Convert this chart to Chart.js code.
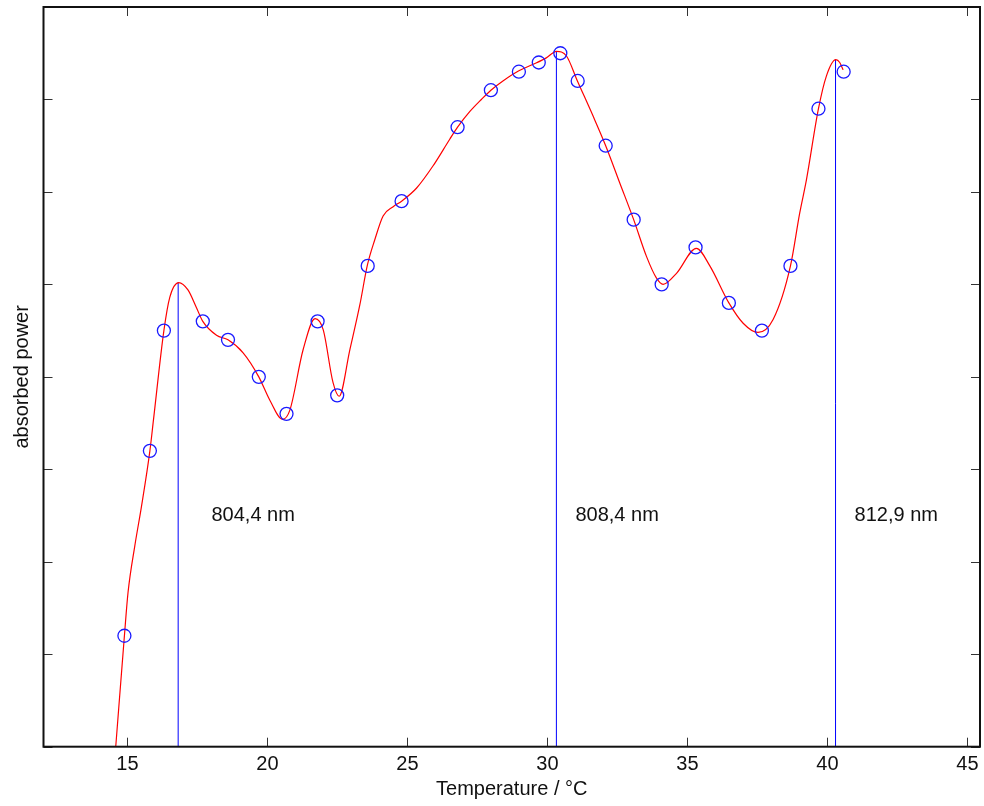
<!DOCTYPE html>
<html>
<head>
<meta charset="utf-8">
<title>absorbed power vs temperature</title>
<script src="https://cdn.jsdelivr.net/npm/chart.js@4.4.1/dist/chart.umd.min.js"></script>
<style>
  body { margin: 0; background: #fff; }
  #wrap { width: 984px; height: 806px; }
</style>
</head>
<body>
<div id="wrap"><canvas id="chart" width="984" height="806"></canvas></div>
<script>
// measured points (temperature in °C, absorbed power in arbitrary units)
const tempC = [14.89, 15.8, 16.3, 17.69, 18.59, 19.69, 20.68, 21.79, 22.49, 23.58, 24.79, 26.79, 27.98,
  28.98, 29.69, 30.46, 31.08, 32.08, 33.08, 34.08, 35.29, 36.48, 37.66, 38.68, 39.68, 40.58];
const power = [1.2, 3.2, 4.5, 4.6, 4.4, 4.0, 3.6, 4.6, 3.8, 5.2, 5.9, 6.7, 7.1,
  7.3, 7.4, 7.5, 7.2, 6.5, 5.7, 5.0, 5.4, 4.8, 4.5, 5.2, 6.9, 7.3];

// smoothed fit curve
const fitX = [14.58, 14.89, 15.02, 15.26, 15.5, 15.8, 15.93, 16.3, 16.51, 16.83, 17.16, 17.46, 17.69,
  18.18, 18.59, 19.13, 19.69, 20.08, 20.54, 20.8, 21.27, 21.7, 21.99, 22.34, 22.56, 22.94, 23.3,
  23.57, 23.83, 24.13, 24.49, 24.79, 25.32, 25.91, 26.51, 26.79, 27.23, 27.64, 27.98, 28.41, 28.98,
  29.49, 29.96, 30.32, 30.68, 31.07, 31.63, 32.08, 32.58, 33.08, 33.54, 33.89, 34.13, 34.61, 35.32,
  35.8, 36.48, 36.99, 37.52, 38.06, 38.68, 39.01, 39.25, 39.68, 39.96, 40.3, 40.44, 40.56];
const fitY = [0, 1.2, 1.67, 2.17, 2.6, 3.2, 3.54, 4.5, 4.86, 5.02, 4.94, 4.75, 4.6,
  4.45, 4.4, 4.26, 4.0, 3.75, 3.54, 3.64, 4.29, 4.63, 4.51, 3.94, 3.79, 4.29, 4.78,
  5.21, 5.48, 5.74, 5.84, 5.9, 6.04, 6.28, 6.57, 6.7, 6.87, 7.0, 7.1, 7.2, 7.31,
  7.38, 7.45, 7.52, 7.47, 7.2, 6.82, 6.5, 6.1, 5.7, 5.3, 5.07, 5.0, 5.12, 5.39,
  5.2, 4.8, 4.58, 4.48, 4.62, 5.2, 5.77, 6.13, 6.9, 7.25, 7.43, 7.4, 7.32];

// peak markers
const peakX = [16.81, 30.32, 40.29];
const peakTop = [5.02, 7.52, 7.43];
const peakLabels = ["804,4 nm", "808,4 nm", "812,9 nm"];
const labelX = [18.0, 31.0, 40.97];
const labelY = [2.5, 2.5, 2.5];

const xTicks = [15, 20, 25, 30, 35, 40, 45];
const yTicks = [0, 1, 2, 3, 4, 5, 6, 7, 8];

const fontFamily = "'Liberation Sans', Arial, Helvetica, sans-serif";

const datasets = [
  {
    label: "fit",
    data: fitX.map((x, i) => ({ x: x, y: fitY[i] })),
    borderColor: "#ff0000",
    borderWidth: 1.2,
    pointRadius: 0,
    cubicInterpolationMode: "monotone",
    order: 2,
  },
  {
    label: "measured",
    data: tempC.map((x, i) => ({ x: x, y: power[i] })),
    showLine: false,
    pointStyle: "circle",
    pointRadius: 6.5,
    borderColor: "#1a1aff",
    backgroundColor: "rgba(0,0,0,0)",
    pointBorderWidth: 1.3,
    order: 1,
  },
];

peakX.forEach((x, i) => {
  datasets.push({
    label: peakLabels[i],
    data: [{ x: x, y: 0 }, { x: x, y: peakTop[i] }],
    borderColor: "#0000ff",
    borderWidth: 1,
    pointRadius: 0,
    order: 3,
  });
});

// frame, inward ticks and peak labels
const framePlugin = {
  id: "frame",
  afterDraw(chart) {
    const { ctx, chartArea: a, scales } = chart;
    const xs = scales.x, ys = scales.y;
    const len = 9;
    ctx.save();
    ctx.strokeStyle = "#333";
    ctx.lineWidth = 1;
    ctx.beginPath();
    xTicks.forEach((v) => {
      const px = Math.round(xs.getPixelForValue(v)) + 0.5;
      ctx.moveTo(px, a.bottom); ctx.lineTo(px, a.bottom - len);
      ctx.moveTo(px, a.top); ctx.lineTo(px, a.top + len);
    });
    yTicks.forEach((v) => {
      const py = Math.round(ys.getPixelForValue(v)) + 0.5;
      ctx.moveTo(a.left, py); ctx.lineTo(a.left + len, py);
      ctx.moveTo(a.right, py); ctx.lineTo(a.right - len, py);
    });
    ctx.stroke();

    ctx.strokeStyle = "#111";
    ctx.lineWidth = 2;
    ctx.strokeRect(a.left, a.top, a.right - a.left, a.bottom - a.top);

    ctx.fillStyle = "#111";
    ctx.font = "20px " + fontFamily;
    ctx.textAlign = "left";
    ctx.textBaseline = "middle";
    peakLabels.forEach((t, i) => {
      ctx.fillText(t, xs.getPixelForValue(labelX[i]), ys.getPixelForValue(labelY[i]));
    });
    ctx.restore();
  },
};

new Chart(document.getElementById("chart"), {
  type: "line",
  data: { datasets: datasets },
  plugins: [framePlugin],
  options: {
    responsive: false,
    animation: false,
    layout: { autoPadding: false, padding: { top: 7, right: 4, left: 0, bottom: 0 } },
    plugins: {
      legend: { display: false },
      tooltip: { enabled: false },
    },
    scales: {
      x: {
        type: "linear",
        min: 12,
        max: 45.45,
        afterBuildTicks: (s) => { s.ticks = xTicks.map((v) => ({ value: v })); },
        afterFit: (s) => {
          s.height = 59.3;
          s.paddingLeft = 0;
          s.paddingRight = 0;
        },
        grid: { display: false, drawTicks: false },
        border: { display: false },
        ticks: {
          padding: 6,
          color: "#111",
          font: { family: fontFamily, size: 20 },
          maxRotation: 0,
        },
        title: {
          display: true,
          text: "Temperature / °C",
          color: "#111",
          font: { family: fontFamily, size: 20 },
          padding: { top: 0, bottom: 5 },
        },
      },
      y: {
        type: "linear",
        min: 0,
        max: 8,
        afterBuildTicks: (s) => { s.ticks = yTicks.map((v) => ({ value: v })); },
        afterFit: (s) => {
          s.width = 43.5;
          s.paddingTop = 0;
          s.paddingBottom = 0;
        },
        grid: { display: false, drawTicks: false },
        border: { display: false },
        ticks: { display: false },
        title: {
          display: true,
          text: "absorbed power",
          color: "#111",
          font: { family: fontFamily, size: 20 },
          padding: { top: 10, bottom: 0 },
        },
      },
    },
  },
});
</script>
</body>
</html>
